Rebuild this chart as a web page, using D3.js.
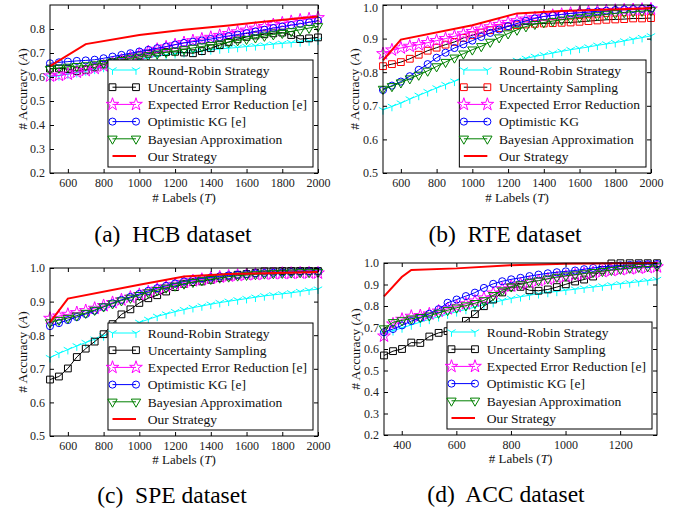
<!DOCTYPE html>
<html>
<head>
<meta charset="utf-8">
<title>Accuracy vs labels</title>
<script src="https://d3js.org/d3.v7.min.js"></script>
<style>
 body { margin: 0; background: #fff; }
 text { font-family: "Liberation Serif", "Times New Roman", serif; }
</style>
</head>
<body>
<svg width="682" height="514"></svg>
<script>
// ---- data ----
const seriesNames = ["Round-Robin Strategy", "Uncertainty Sampling", "Expected Error Reduction [e]", "Optimistic KG [e]", "Bayesian Approximation", "Our Strategy"];
const seriesNamesRTE = ["Round-Robin Strategy", "Uncertainty Sampling", "Expected Error Reduction", "Optimistic KG", "Bayesian Approximation", "Our Strategy"];

const labels2000 = [500, 550, 600, 650, 700, 750, 800, 850, 900, 950, 1000, 1050, 1100, 1150, 1200, 1250, 1300, 1350, 1400, 1450, 1500, 1550, 1600, 1650, 1700, 1750, 1800, 1850, 1900, 1950, 2000];
const labelsACC = [335, 368, 401, 435, 468, 501, 535, 568, 601, 635, 668, 701, 735, 768, 801, 835, 868, 901, 935, 968, 1001, 1035, 1068, 1101, 1135, 1168, 1201, 1235, 1268, 1301, 1335];

const ticks2000 = [600, 800, 1000, 1200, 1400, 1600, 1800, 2000];
const ticksACC = [400, 600, 800, 1000, 1200];
const yTicksLow = [0.2, 0.3, 0.4, 0.5, 0.6, 0.7, 0.8];
const yTicksHigh = [0.5, 0.6, 0.7, 0.8, 0.9, 1.0];
const yTicksACC = [0.2, 0.3, 0.4, 0.5, 0.6, 0.7, 0.8, 0.9, 1.0];

// HCB
const hcbRoundRobin = [0.600,0.605,0.612,0.618,0.625,0.632,0.640,0.648,0.657,0.665,0.673,0.680,0.687,0.692,0.697,0.701,0.705,0.709,0.713,0.717,0.720,0.723,0.727,0.730,0.733,0.737,0.740,0.743,0.746,0.750,0.754];
const hcbUncertainty = [0.635,0.636,0.633,0.625,0.630,0.640,0.652,0.663,0.672,0.681,0.690,0.697,0.702,0.704,0.705,0.702,0.699,0.708,0.720,0.733,0.746,0.757,0.767,0.773,0.778,0.782,0.785,0.775,0.758,0.761,0.765];
const hcbExpected = [0.604,0.607,0.612,0.620,0.627,0.636,0.646,0.658,0.670,0.682,0.694,0.705,0.715,0.725,0.734,0.743,0.751,0.758,0.765,0.773,0.781,0.788,0.795,0.803,0.810,0.818,0.825,0.831,0.837,0.842,0.847];
const hcbOptimistic = [0.657,0.661,0.664,0.667,0.669,0.672,0.678,0.685,0.692,0.699,0.706,0.713,0.720,0.727,0.735,0.742,0.747,0.752,0.758,0.765,0.771,0.777,0.783,0.790,0.797,0.804,0.810,0.816,0.822,0.828,0.835];
const hcbBayesian = [0.633,0.638,0.642,0.645,0.648,0.652,0.658,0.664,0.670,0.677,0.684,0.690,0.697,0.703,0.709,0.715,0.721,0.727,0.733,0.739,0.745,0.752,0.758,0.764,0.771,0.777,0.783,0.790,0.797,0.804,0.811];
const hcbOursX = [500, 700, 1000, 1250, 1500, 1750, 2000];
const hcbOurs = [0.645, 0.737, 0.775, 0.797, 0.815, 0.834, 0.852];

// RTE
const rteRoundRobin = [0.688,0.698,0.708,0.720,0.731,0.742,0.753,0.763,0.773,0.783,0.793,0.802,0.811,0.820,0.828,0.835,0.841,0.847,0.852,0.857,0.862,0.867,0.871,0.875,0.880,0.884,0.888,0.893,0.898,0.903,0.908];
const rteUncertainty = [0.818,0.824,0.830,0.840,0.852,0.864,0.873,0.882,0.890,0.902,0.910,0.918,0.925,0.931,0.936,0.940,0.942,0.944,0.945,0.946,0.947,0.948,0.950,0.952,0.954,0.956,0.957,0.958,0.960,0.960,0.961];
const rteExpected = [0.855,0.866,0.872,0.877,0.882,0.888,0.894,0.900,0.907,0.914,0.921,0.928,0.935,0.942,0.948,0.953,0.958,0.962,0.966,0.969,0.972,0.975,0.977,0.979,0.981,0.983,0.984,0.985,0.986,0.987,0.988];
const rteOptimistic = [0.747,0.760,0.772,0.788,0.807,0.824,0.843,0.858,0.872,0.883,0.894,0.905,0.917,0.927,0.937,0.945,0.953,0.960,0.966,0.969,0.972,0.975,0.977,0.979,0.981,0.983,0.985,0.987,0.988,0.989,0.990];
const rteBayesian = [0.750,0.758,0.769,0.781,0.792,0.804,0.817,0.830,0.843,0.855,0.867,0.877,0.890,0.903,0.915,0.926,0.936,0.943,0.948,0.952,0.956,0.960,0.963,0.966,0.969,0.972,0.975,0.978,0.980,0.982,0.984];
const rteOursX = [500, 600, 1000, 1250, 1500, 2000];
const rteOurs = [0.835, 0.897, 0.940, 0.975, 0.982, 0.990];

// SPE
const speRoundRobin = [0.733,0.746,0.757,0.768,0.778,0.788,0.798,0.808,0.818,0.828,0.838,0.847,0.856,0.863,0.870,0.876,0.882,0.887,0.892,0.897,0.901,0.905,0.909,0.913,0.917,0.920,0.923,0.926,0.930,0.934,0.937];
const speUncertainty = [0.668,0.677,0.701,0.735,0.760,0.781,0.803,0.833,0.862,0.877,0.896,0.910,0.919,0.930,0.943,0.953,0.958,0.960,0.965,0.970,0.975,0.980,0.982,0.985,0.990,0.990,0.991,0.991,0.991,0.991,0.991];
const speExpected = [0.850,0.857,0.862,0.867,0.873,0.880,0.888,0.897,0.905,0.913,0.921,0.929,0.937,0.944,0.951,0.957,0.962,0.966,0.970,0.973,0.976,0.978,0.980,0.981,0.982,0.983,0.984,0.984,0.985,0.985,0.985];
const speOptimistic = [0.827,0.836,0.845,0.854,0.863,0.873,0.884,0.895,0.905,0.914,0.923,0.932,0.940,0.947,0.954,0.960,0.965,0.969,0.972,0.975,0.978,0.980,0.982,0.984,0.985,0.986,0.987,0.988,0.989,0.990,0.990];
const speBayesian = [0.838,0.845,0.851,0.858,0.866,0.875,0.885,0.894,0.903,0.911,0.919,0.927,0.934,0.941,0.947,0.953,0.958,0.963,0.967,0.971,0.974,0.977,0.979,0.981,0.983,0.984,0.985,0.986,0.987,0.987,0.988];
const speOursX = [500, 600, 1000, 1250, 1500, 2000];
const speOurs = [0.838, 0.909, 0.950, 0.975, 0.982, 0.988];

// ACC
const accRoundRobin = [0.672,0.685,0.698,0.712,0.725,0.738,0.750,0.762,0.773,0.784,0.795,0.806,0.816,0.826,0.835,0.843,0.850,0.857,0.863,0.868,0.873,0.878,0.883,0.888,0.893,0.898,0.903,0.908,0.913,0.918,0.923];
const accUncertainty = [0.570,0.590,0.600,0.630,0.628,0.658,0.675,0.683,0.700,0.731,0.762,0.799,0.830,0.863,0.887,0.889,0.873,0.871,0.877,0.888,0.901,0.914,0.923,0.937,0.968,0.998,0.999,0.999,0.999,0.999,0.999];
const accExpected = [0.660,0.716,0.738,0.752,0.755,0.763,0.776,0.787,0.798,0.810,0.823,0.837,0.860,0.880,0.893,0.902,0.910,0.918,0.925,0.932,0.938,0.944,0.950,0.955,0.960,0.965,0.969,0.973,0.976,0.979,0.982];
const accOptimistic = [0.678,0.693,0.710,0.730,0.745,0.764,0.785,0.815,0.830,0.846,0.862,0.884,0.903,0.915,0.924,0.931,0.939,0.946,0.952,0.957,0.961,0.965,0.971,0.977,0.982,0.986,0.989,0.991,0.993,0.994,0.995];
const accBayesian = [0.695,0.724,0.733,0.741,0.748,0.755,0.768,0.780,0.792,0.802,0.813,0.826,0.850,0.872,0.890,0.900,0.912,0.918,0.927,0.935,0.941,0.946,0.951,0.957,0.962,0.967,0.972,0.977,0.981,0.984,0.987];
const accOursX = [335, 400, 435, 600, 800, 1000, 1335];
const accOurs = [0.845, 0.935, 0.968, 0.975, 0.990, 0.997, 1.000];

// ---- drawing ----
const svg = d3.select("svg");

// marker shapes
function triDown(r) {
    const c = Math.cos(Math.PI / 6) * r, s = Math.sin(Math.PI / 6) * r;
    return `M0,0L0,${r}M0,0L${c},${-s}M0,0L${-c},${-s}`;
}
const markerPath = {
    tri: triDown(4.8),
    square: d3.symbol(d3.symbolSquare, 46)(),
    star: d3.symbol(d3.symbolStar, 50)(),
    circle: d3.symbol(d3.symbolCircle, 40)(),
    tridown: d3.symbol(d3.symbolTriangle, 38)()
};

function styles(uncMarkerColor) {
    return [
        {line: "#00ffff", marker: "#00ffff", shape: "tri", rot: 0},
        {line: "#000", marker: uncMarkerColor, shape: "square", rot: 0},
        {line: "#ff00ff", marker: "#ff00ff", shape: "star", rot: 0},
        {line: "#0000ff", marker: "#0000ff", shape: "circle", rot: 0},
        {line: "#008000", marker: "#008000", shape: "tridown", rot: 180},
        {line: "#ff0000", marker: null, shape: null, rot: 0, width: 2}
    ];
}

const panels = [
    {caption: "(a)  HCB dataset", capX: 173, capY: 242, left: 50, right: 318, top: 5, bottom: 173,
     xDomain: [500, 2000], yDomain: [0.2, 0.9], xTicks: ticks2000, yTicks: yTicksLow, ylabX: 22, xlabY: 201.5,
     xs: labels2000, values: [hcbRoundRobin, hcbUncertainty, hcbExpected, hcbOptimistic, hcbBayesian],
     oursX: hcbOursX, ours: hcbOurs, names: seriesNames, uncColor: "#000"},
    {caption: "(b)  RTE dataset", capX: 505, capY: 242, left: 383, right: 651, top: 5, bottom: 173,
     xDomain: [500, 2000], yDomain: [0.5, 1.0], xTicks: ticks2000, yTicks: yTicksHigh, ylabX: 354, xlabY: 201.5,
     xs: labels2000, values: [rteRoundRobin, rteUncertainty, rteExpected, rteOptimistic, rteBayesian],
     oursX: rteOursX, ours: rteOurs, names: seriesNamesRTE, uncColor: "#ff0000"},
    {caption: "(c)  SPE dataset", capX: 172, capY: 503, left: 50, right: 318, top: 268, bottom: 436,
     xDomain: [500, 2000], yDomain: [0.5, 1.0], xTicks: ticks2000, yTicks: yTicksHigh, ylabX: 22, xlabY: 464,
     xs: labels2000, values: [speRoundRobin, speUncertainty, speExpected, speOptimistic, speBayesian],
     oursX: speOursX, ours: speOurs, names: seriesNames, uncColor: "#000"},
    {caption: "(d)  ACC dataset", capX: 506, capY: 502, left: 384, right: 657, top: 263, bottom: 435,
     xDomain: [335, 1335], yDomain: [0.2, 1.0], xTicks: ticksACC, yTicks: yTicksACC, ylabX: 355, xlabY: 463,
     xs: labelsACC, values: [accRoundRobin, accUncertainty, accExpected, accOptimistic, accBayesian],
     oursX: accOursX, ours: accOurs, names: seriesNames, uncColor: "#000"}
];

function drawMarker(g, st, x, y) {
    g.append("path")
        .attr("d", markerPath[st.shape])
        .attr("transform", `translate(${x},${y}) rotate(${st.rot})`)
        .attr("fill", "none")
        .attr("stroke", st.marker)
        .attr("stroke-width", 1);
}

panels.forEach(p => {
    const x = d3.scaleLinear().domain(p.xDomain).range([p.left, p.right]);
    const y = d3.scaleLinear().domain(p.yDomain).range([p.bottom, p.top]);
    const st = styles(p.uncColor);
    const g = svg.append("g");

    // series with markers
    p.values.forEach((vals, i) => {
        const pts = vals.map((v, k) => [p.xs[k], v]);
        g.append("path")
            .datum(pts)
            .attr("fill", "none")
            .attr("stroke", st[i].line)
            .attr("stroke-width", 1)
            .attr("d", d3.line().x(d => x(d[0])).y(d => y(d[1])));
        pts.forEach(d => drawMarker(g, st[i], x(d[0]), y(d[1])));
    });

    // our strategy
    g.append("path")
        .datum(p.oursX.map((v, k) => [v, p.ours[k]]))
        .attr("fill", "none")
        .attr("stroke", "#ff0000")
        .attr("stroke-width", 2)
        .attr("d", d3.line().x(d => x(d[0])).y(d => y(d[1])));

    // axes, ticks inward on all four sides
    const fmtY = d3.format(".1f");
    const bottomAx = g.append("g").attr("transform", `translate(0,${p.bottom})`)
        .call(d3.axisBottom(x).tickValues(p.xTicks).tickSize(-4).tickSizeOuter(0).tickPadding(5).tickFormat(d3.format("d")));
    const leftAx = g.append("g").attr("transform", `translate(${p.left},0)`)
        .call(d3.axisLeft(y).tickValues(p.yTicks).tickSize(-4).tickSizeOuter(0).tickPadding(5).tickFormat(fmtY));
    g.append("g").attr("transform", `translate(0,${p.top})`)
        .call(d3.axisTop(x).tickValues(p.xTicks).tickSize(-4).tickSizeOuter(0).tickFormat(""));
    g.append("g").attr("transform", `translate(${p.right},0)`)
        .call(d3.axisRight(y).tickValues(p.yTicks).tickSize(-4).tickSizeOuter(0).tickFormat(""));
    g.selectAll(".domain").remove();
    [bottomAx, leftAx].forEach(a => a.selectAll("text")
        .attr("font-family", "Liberation Serif, serif")
        .attr("font-size", 12)
        .attr("fill", "#222"));
    // keep a label at the very top of the page inside the picture
    leftAx.selectAll(".tick").filter(d => y(d) < 9).select("text").attr("dy", "0.55em");

    g.append("rect")
        .attr("x", p.left).attr("y", p.top)
        .attr("width", p.right - p.left).attr("height", p.bottom - p.top)
        .attr("fill", "none").attr("stroke", "#000").attr("stroke-width", 1);

    // legend
    const lg = g.append("g");
    const rowH = 17.2, legH = 107;
    const legRight = p.right - 5, legBottom = p.bottom - 6, legTop = legBottom - legH;
    const box = lg.append("rect").attr("fill", "#fff").attr("stroke", "#000").attr("stroke-width", 1);
    const texts = [];
    p.names.forEach((name, i) => {
        texts.push(lg.append("text")
            .attr("y", legTop + 10 + i * rowH)
            .attr("dy", "0.35em")
            .attr("font-size", 13.5)
            .attr("fill", "#111")
            .text(name));
    });
    const maxW = d3.max(texts, t => t.node().getComputedTextLength());
    const legW = 4.5 + 23.5 + 11.7 + maxW + 6;
    const legLeft = legRight - legW;
    box.attr("x", legLeft).attr("y", legTop).attr("width", legW).attr("height", legH);
    texts.forEach(t => t.attr("x", legLeft + 4.5 + 23.5 + 11.7));
    st.forEach((s, i) => {
        const ly = legTop + 10 + i * rowH;
        const x1 = legLeft + 4.5, x2 = x1 + 23.5;
        lg.append("line").attr("x1", x1).attr("x2", x2).attr("y1", ly).attr("y2", ly)
            .attr("stroke", s.line).attr("stroke-width", s.width || 1);
        if (s.shape) { drawMarker(lg, s, x1, ly); drawMarker(lg, s, x2, ly); }
    });

    // axis labels
    const xl = g.append("text")
        .attr("x", (p.left + p.right) / 2).attr("y", p.xlabY)
        .attr("text-anchor", "middle").attr("font-size", 13).attr("fill", "#111");
    xl.append("tspan").text("# Labels (");
    xl.append("tspan").attr("font-style", "italic").text("T");
    xl.append("tspan").text(")");

    const yl = g.append("text")
        .attr("transform", `translate(${p.ylabX},${(p.top + p.bottom) / 2}) rotate(-90)`)
        .attr("dy", "0.35em")
        .attr("text-anchor", "middle").attr("font-size", 13.5).attr("fill", "#111");
    yl.append("tspan").text("# Accuracy (");
    yl.append("tspan").attr("font-style", "italic").text("A");
    yl.append("tspan").text(")");

    // caption
    g.append("text")
        .attr("x", p.capX).attr("y", p.capY)
        .attr("text-anchor", "middle").attr("font-size", 23.5).attr("fill", "#000")
        .style("white-space", "pre")
        .text(p.caption);
});
</script>
</body>
</html>
